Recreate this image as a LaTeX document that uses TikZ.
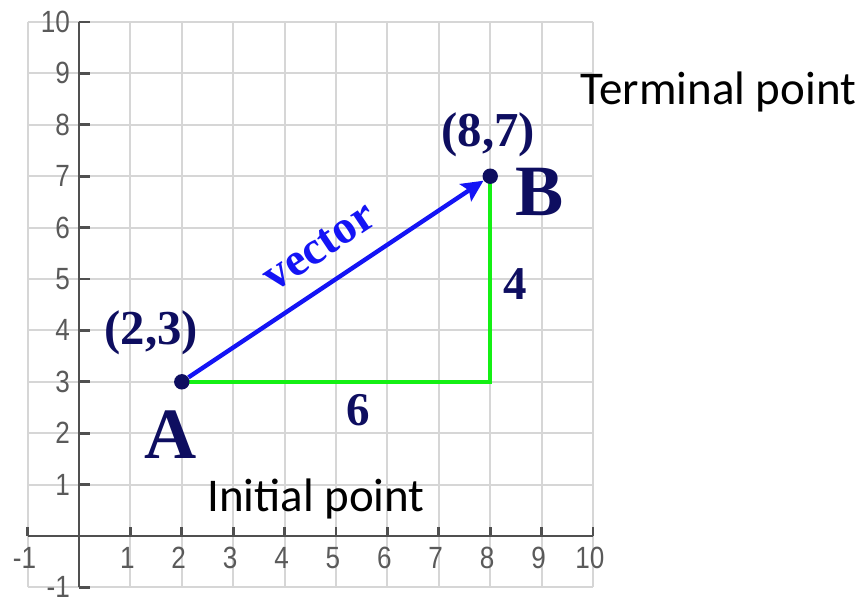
\documentclass[tikz,border=0pt]{standalone}
\usepackage{fontspec}
\setmainfont{Liberation Serif}
\newfontfamily\calib{Carlito}
\newfontfamily\axfont{Liberation Sans}
\usetikzlibrary{arrows.meta,backgrounds}
\definecolor{navy}{RGB}{14,14,96}
\definecolor{gridgray}{RGB}{214,214,214}
\definecolor{axgray}{RGB}{80,80,80}
\definecolor{labgray}{RGB}{90,90,90}
\definecolor{vecblue}{RGB}{20,20,245}
\definecolor{legreen}{RGB}{20,240,20}
\tikzset{
  gridline/.style={draw=gridgray, line width=1.1pt},
  axisline/.style={draw=axgray, line width=1.5pt},
  ticklab/.style={text=labgray, font=\axfont\fontsize{17}{17}\selectfont, inner sep=0pt, xscale=0.85},
  dot/.style={circle, fill=navy, minimum size=0.3cm, inner sep=0pt},
  coordlab/.style={text=navy, font=\bfseries\fontsize{27}{27}\selectfont, inner sep=0pt},
  biglab/.style={text=navy, font=\bfseries\fontsize{40}{40}\selectfont, inner sep=0pt},
  numlab/.style={text=navy, font=\bfseries\fontsize{26}{26}\selectfont, inner sep=0pt},
  veclab/.style={text=vecblue, font=\bfseries\fontsize{26}{26}\selectfont, inner sep=0pt},
  caption/.style={text=black, font=\calib\fontsize{26}{26}\selectfont, inner sep=0pt},
  vecline/.style={draw=vecblue, line width=2.4pt, -{Stealth[length=0.42cm,width=0.4cm,inset=0.08cm]}},
  greenline/.style={draw=legreen, line width=2.4pt}
}
\begin{document}
\begin{tikzpicture}[x=1cm,y=1cm]
\useasboundingbox (-1.537,-1.167) rectangle (15.233,10.428);
% dots
\node[dot] (A) at (2,3) {};
\node[dot] (B) at (8,7) {};
\coordinate (C) at (8,3);
\begin{pgfonlayer}{background}
  \draw[gridline] (-1,-1) grid (10,10);
  \draw[axisline] (-1,0) -- (10,0);
  \draw[axisline] (0,-1) -- (0,10);
  \foreach \x in {-1,1,2,...,10} \draw[axisline] (\x,0) -- (\x,0.18);
  \foreach \y in {-1,1,2,...,10} \draw[axisline] (0,\y) -- (0.21,\y);
  \draw[greenline] (A.center) -- (C) -- (B.center);
  \draw[vecline] (A) -- (B);
\end{pgfonlayer}
% tick labels
\foreach \x in {-1,1,2,...,10} \node[ticklab, anchor=north] at (\x-0.06,-0.21) {\x};
\foreach \y in {-1,1,2,...,10} \node[ticklab, anchor=east] at (-0.17,\y) {\y};
% labels
\node[coordlab] (lb) at (7.96,7.80) {(8,7)};
\node[coordlab] (la) at (1.41,3.95) {(2,3)};
\node[biglab] (nA) at (1.78,1.98) {A};
\node[biglab] (nB) at (8.97,6.69) {B};
\node[numlab] (six) at (5.43,2.45) {6};
\node[numlab] (four) at (8.48,4.90) {4};
\node[veclab, rotate=33.69] (vec) at (4.68,5.62) {vector};
\node[caption] (term) at (12.44,8.64) {Terminal point};
\node[caption] (init) at (4.61,0.72) {Initial point};
\end{tikzpicture}
\end{document}
